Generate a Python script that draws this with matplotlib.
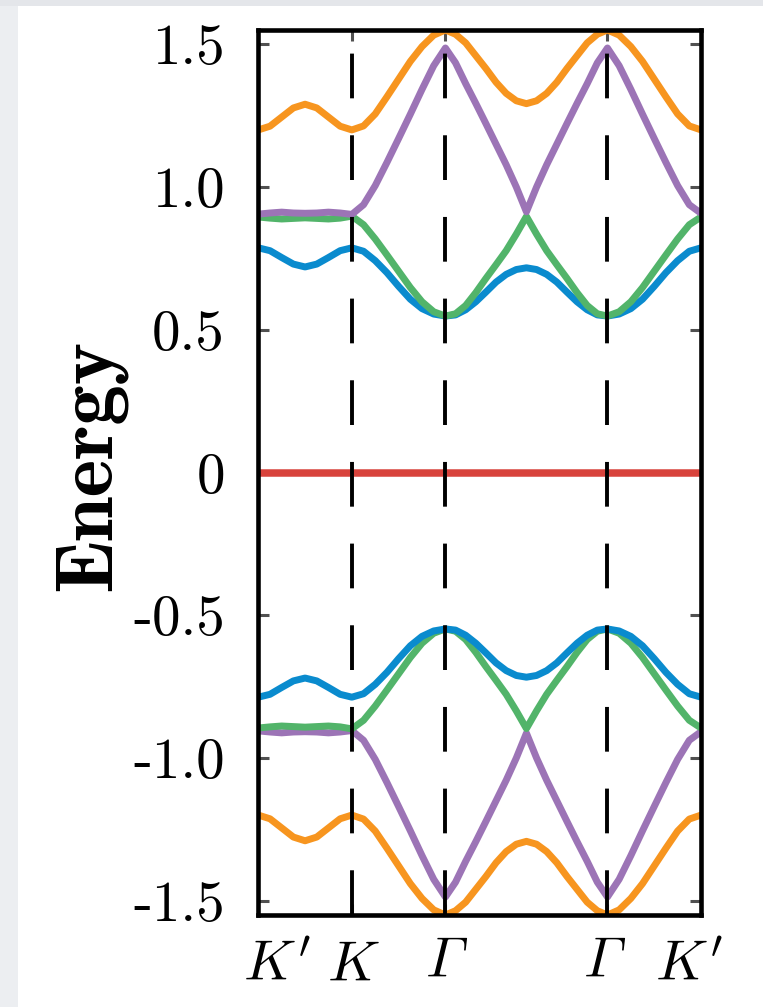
import numpy as np
import matplotlib.pyplot as plt
from matplotlib.patches import Rectangle
from matplotlib.transforms import ScaledTranslation

plt.rcParams['mathtext.fontset'] = 'cm'
plt.rcParams['axes.unicode_minus'] = False

# path K' -> K -> Gamma -> M -> Gamma -> K', lengths in units of |Gamma K|
seg_len = [1.0, 1.0, np.sqrt(3) / 2, np.sqrt(3) / 2, 1.0]
# italic capital Gamma sits at slot 0xA1 of the BaKoMa cmmi10 font
kpt_labels = [r"$K'$", r"$K$", '\u00a1', '\u00a1', r"$K'$"]
kpt_index = [0, 1, 2, 4, 5]      # M (index 3) carries no label

# upper bands, 9 samples on K'K then 8 per remaining segment
band_blue = [0.787, 0.777, 0.753, 0.730, 0.720, 0.730, 0.753, 0.777, 0.787,
             0.775, 0.742, 0.700, 0.652, 0.607, 0.574, 0.555, 0.548,
             0.552, 0.570, 0.598, 0.632, 0.667, 0.694, 0.711, 0.717,
             0.711, 0.694, 0.667, 0.632, 0.598, 0.570, 0.552, 0.548,
             0.555, 0.574, 0.607, 0.652, 0.700, 0.742, 0.775, 0.787]
band_green = [0.895, 0.891, 0.888, 0.890, 0.892, 0.890, 0.888, 0.891, 0.898,
              0.868, 0.818, 0.762, 0.705, 0.648, 0.598, 0.563, 0.548,
              0.556, 0.585, 0.630, 0.680, 0.728, 0.777, 0.835, 0.897,
              0.835, 0.777, 0.728, 0.680, 0.630, 0.585, 0.556, 0.548,
              0.563, 0.598, 0.648, 0.705, 0.762, 0.818, 0.868, 0.895]
band_purple = [0.905, 0.909, 0.912, 0.909, 0.908, 0.909, 0.912, 0.909, 0.904,
               0.938, 1.005, 1.086, 1.170, 1.255, 1.342, 1.425, 1.487,
               1.435, 1.362, 1.293, 1.222, 1.150, 1.078, 1.000, 0.913,
               1.000, 1.078, 1.150, 1.222, 1.293, 1.362, 1.435, 1.487,
               1.425, 1.342, 1.255, 1.170, 1.086, 1.005, 0.938, 0.908]
band_orange = [1.200, 1.213, 1.245, 1.277, 1.290, 1.277, 1.245, 1.213, 1.200,
               1.214, 1.256, 1.316, 1.378, 1.440, 1.492, 1.532, 1.550,
               1.535, 1.505, 1.460, 1.415, 1.367, 1.328, 1.302, 1.292,
               1.302, 1.328, 1.367, 1.415, 1.460, 1.505, 1.535, 1.550,
               1.532, 1.492, 1.440, 1.378, 1.316, 1.256, 1.214, 1.200]
band_flat = [0.0] * 41

energy_ticks = [-1.5, -1.0, -0.5, 0.0, 0.5, 1.0, 1.5]
energy_labels = ['-1.5', '-1.0', '-0.5', '0', '0.5', '1.0', '1.5']

colors = {'blue': '#0A8BCE', 'green': '#52B46A', 'purple': '#9C74B6',
          'orange': '#F7951F', 'red': '#D8433C'}

# k-axis sampling
kpts = np.concatenate([[0.0], np.cumsum(seg_len)])
k = [np.linspace(kpts[0], kpts[1], 9)]
for a, b in zip(kpts[1:-1], kpts[2:]):
    k.append(np.linspace(a, b, 9)[1:])
k = np.concatenate(k)

fig = plt.figure(figsize=(7.63, 10.07), dpi=100)
# light grey margin along the left and top edges
fig.patches.append(Rectangle((0, 0), 18 / 763, 1, transform=fig.transFigure,
                             facecolor='#ECEEF1', edgecolor='none', zorder=0))
fig.patches.append(Rectangle((0, 1 - 6 / 1007), 1, 6 / 1007, transform=fig.transFigure,
                             facecolor='#E4E6EA', edgecolor='none', zorder=0))

ax = fig.add_axes([258.3 / 763, 1 - 915 / 1007, 442.7 / 763, 885 / 1007])

lw = 5.0
lower = [('orange', band_orange), ('purple', band_purple),
         ('green', band_green), ('blue', band_blue)]
for name, band in lower:
    ax.plot(k, -np.array(band), color=colors[name], lw=lw, solid_capstyle='butt')
ax.plot(k, band_flat, color=colors['red'], lw=5.4)
for name, band in lower[::-1]:
    ax.plot(k, band, color=colors[name], lw=lw, solid_capstyle='butt')

for x in kpts[kpt_index][1:-1]:
    ax.axvline(x, color='black', lw=2.8, linestyle=(0, (11.5, 9.5)), zorder=3)

ax.set_xlim(kpts[0], kpts[-1])
ax.set_ylim(-1.55, 1.55)

ax.set_yticks(energy_ticks)
ax.set_yticklabels(energy_labels, fontfamily='cmr10', fontsize=41)
ax.set_xticks(kpts[kpt_index])
ax.set_xticklabels(kpt_labels, fontsize=41)
for lbl in ax.get_xticklabels():
    if lbl.get_text() == '\u00a1':
        lbl.set_fontfamily('cmmi10')
ax.tick_params(axis='y', direction='in', left=True, right=True, length=8,
               width=2.2, color='#505050', pad=24)
ax.tick_params(axis='x', direction='in', top=True, bottom=True, length=8,
               width=2.2, color='#505050', pad=16)

shift_px = [18, 2, -2, -6, -12]
for lbl, dx in zip(ax.get_xticklabels(), shift_px):
    lbl.set_transform(lbl.get_transform() + ScaledTranslation(dx / 100, 0, fig.dpi_scale_trans))

for sp in ax.spines.values():
    sp.set_linewidth(3.3)
    sp.set_zorder(4)

ax.set_ylabel('Energy', fontfamily='cmb10', fontsize=58, va='center')
ax.yaxis.set_label_coords((90 - 258.3) / 442.7, 0.508)

fig.savefig('out.png', dpi=100)
